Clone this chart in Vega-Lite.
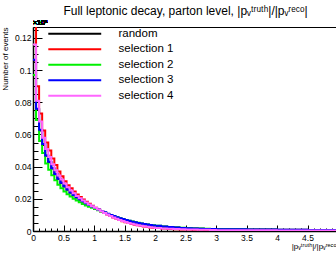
{
  "$schema": "https://vega.github.io/schema/vega-lite/v6.json",
  "width": 305,
  "height": 204,
  "autosize": {"type": "none"},
  "padding": {"left": 33, "top": 27, "right": 0, "bottom": 24},
  "background": "white",
  "config": {
    "view": {"stroke": "black", "strokeWidth": 1},
    "font": "Liberation Sans"
  },
  "title": {
    "text": "Full leptonic decay, parton level, |pᵥᵗʳᵘᵗʰ|/|pᵥʳᵉᶜᵒ|",
    "fontSize": 12,
    "fontWeight": "normal",
    "font": "Liberation Sans",
    "color": "black",
    "anchor": "middle",
    "frame": "group",
    "offset": 1
  },
  "data": {
    "values": [
      {"x": 0.00, "random": 0.1060, "selection 1": 0.140, "selection 2": 0.097, "selection 3": 0.1065, "selection 4": 0.116},
      {"x": 0.05, "random": 0.0755, "selection 1": 0.090, "selection 2": 0.069, "selection 3": 0.076, "selection 4": 0.081},
      {"x": 0.10, "random": 0.0625, "selection 1": 0.073, "selection 2": 0.056, "selection 3": 0.063, "selection 4": 0.068},
      {"x": 0.15, "random": 0.0535, "selection 1": 0.0625, "selection 2": 0.0485, "selection 3": 0.054, "selection 4": 0.058},
      {"x": 0.20, "random": 0.0468, "selection 1": 0.055, "selection 2": 0.042, "selection 3": 0.047, "selection 4": 0.051},
      {"x": 0.25, "random": 0.0428, "selection 1": 0.050, "selection 2": 0.038, "selection 3": 0.043, "selection 4": 0.046},
      {"x": 0.30, "random": 0.0388, "selection 1": 0.045, "selection 2": 0.0347, "selection 3": 0.039, "selection 4": 0.0415},
      {"x": 0.35, "random": 0.0353, "selection 1": 0.041, "selection 2": 0.0316, "selection 3": 0.0355, "selection 4": 0.0378},
      {"x": 0.40, "random": 0.0323, "selection 1": 0.037, "selection 2": 0.0288, "selection 3": 0.0325, "selection 4": 0.0345},
      {"x": 0.45, "random": 0.0298, "selection 1": 0.034, "selection 2": 0.0266, "selection 3": 0.030, "selection 4": 0.032},
      {"x": 0.50, "random": 0.0276, "selection 1": 0.031, "selection 2": 0.0246, "selection 3": 0.0278, "selection 4": 0.0295},
      {"x": 0.55, "random": 0.0256, "selection 1": 0.0285, "selection 2": 0.0229, "selection 3": 0.0258, "selection 4": 0.0272},
      {"x": 0.60, "random": 0.0238, "selection 1": 0.0265, "selection 2": 0.0214, "selection 3": 0.024, "selection 4": 0.0252},
      {"x": 0.65, "random": 0.0222, "selection 1": 0.0245, "selection 2": 0.0201, "selection 3": 0.0224, "selection 4": 0.0234},
      {"x": 0.70, "random": 0.0208, "selection 1": 0.0227, "selection 2": 0.0189, "selection 3": 0.021, "selection 4": 0.0218},
      {"x": 0.75, "random": 0.0195, "selection 1": 0.0211, "selection 2": 0.0178, "selection 3": 0.0197, "selection 4": 0.0203},
      {"x": 0.80, "random": 0.0183, "selection 1": 0.0196, "selection 2": 0.0168, "selection 3": 0.0185, "selection 4": 0.019},
      {"x": 0.85, "random": 0.0171, "selection 1": 0.0182, "selection 2": 0.0159, "selection 3": 0.0173, "selection 4": 0.0177},
      {"x": 0.90, "random": 0.0160, "selection 1": 0.0169, "selection 2": 0.0151, "selection 3": 0.0162, "selection 4": 0.0165},
      {"x": 0.95, "random": 0.0150, "selection 1": 0.0157, "selection 2": 0.0144, "selection 3": 0.0152, "selection 4": 0.0154},
      {"x": 1.00, "random": 0.0141, "selection 1": 0.0145, "selection 2": 0.0137, "selection 3": 0.0143, "selection 4": 0.0144},
      {"x": 1.05, "random": 0.0132, "selection 1": 0.0134, "selection 2": 0.0129, "selection 3": 0.0134, "selection 4": 0.0133},
      {"x": 1.10, "random": 0.0123, "selection 1": 0.0123, "selection 2": 0.0121, "selection 3": 0.0125, "selection 4": 0.0122},
      {"x": 1.15, "random": 0.0114, "selection 1": 0.0112, "selection 2": 0.0113, "selection 3": 0.0116, "selection 4": 0.0112},
      {"x": 1.20, "random": 0.0106, "selection 1": 0.0102, "selection 2": 0.0106, "selection 3": 0.0108, "selection 4": 0.0102},
      {"x": 1.25, "random": 0.0098, "selection 1": 0.0093, "selection 2": 0.0099, "selection 3": 0.0100, "selection 4": 0.0093},
      {"x": 1.30, "random": 0.0091, "selection 1": 0.0084, "selection 2": 0.0092, "selection 3": 0.0093, "selection 4": 0.0084},
      {"x": 1.35, "random": 0.0084, "selection 1": 0.0076, "selection 2": 0.0086, "selection 3": 0.0086, "selection 4": 0.0076},
      {"x": 1.40, "random": 0.0078, "selection 1": 0.0068, "selection 2": 0.0080, "selection 3": 0.0080, "selection 4": 0.0069},
      {"x": 1.45, "random": 0.0072, "selection 1": 0.0061, "selection 2": 0.0074, "selection 3": 0.0074, "selection 4": 0.0062},
      {"x": 1.50, "random": 0.0067, "selection 1": 0.0055, "selection 2": 0.0069, "selection 3": 0.0068, "selection 4": 0.0056},
      {"x": 1.55, "random": 0.0062, "selection 1": 0.0049, "selection 2": 0.0064, "selection 3": 0.0063, "selection 4": 0.0050},
      {"x": 1.60, "random": 0.0057, "selection 1": 0.0044, "selection 2": 0.0059, "selection 3": 0.0058, "selection 4": 0.0045},
      {"x": 1.65, "random": 0.0053, "selection 1": 0.0039, "selection 2": 0.0055, "selection 3": 0.0054, "selection 4": 0.0040},
      {"x": 1.70, "random": 0.0049, "selection 1": 0.0035, "selection 2": 0.0051, "selection 3": 0.0050, "selection 4": 0.0036},
      {"x": 1.75, "random": 0.0045, "selection 1": 0.0031, "selection 2": 0.0047, "selection 3": 0.0046, "selection 4": 0.0032},
      {"x": 1.80, "random": 0.0042, "selection 1": 0.0028, "selection 2": 0.0044, "selection 3": 0.0043, "selection 4": 0.0029},
      {"x": 1.85, "random": 0.0039, "selection 1": 0.0025, "selection 2": 0.0041, "selection 3": 0.0040, "selection 4": 0.0026},
      {"x": 1.90, "random": 0.0036, "selection 1": 0.0022, "selection 2": 0.0038, "selection 3": 0.0037, "selection 4": 0.0023},
      {"x": 1.95, "random": 0.0033, "selection 1": 0.0020, "selection 2": 0.0035, "selection 3": 0.0034, "selection 4": 0.0021},
      {"x": 2.0, "random": 0.0031, "selection 1": 0.0018, "selection 2": 0.0032, "selection 3": 0.0032, "selection 4": 0.0019},
      {"x": 2.1, "random": 0.0027, "selection 1": 0.0015, "selection 2": 0.0028, "selection 3": 0.0028, "selection 4": 0.0016},
      {"x": 2.2, "random": 0.0024, "selection 1": 0.0013, "selection 2": 0.0025, "selection 3": 0.0025, "selection 4": 0.0014},
      {"x": 2.3, "random": 0.0021, "selection 1": 0.0011, "selection 2": 0.0022, "selection 3": 0.0022, "selection 4": 0.0012},
      {"x": 2.4, "random": 0.0019, "selection 1": 0.0010, "selection 2": 0.0020, "selection 3": 0.0019, "selection 4": 0.0011},
      {"x": 2.5, "random": 0.0017, "selection 1": 0.0009, "selection 2": 0.0018, "selection 3": 0.0017, "selection 4": 0.0010},
      {"x": 2.6, "random": 0.0015, "selection 1": 0.0008, "selection 2": 0.0016, "selection 3": 0.0015, "selection 4": 0.0009},
      {"x": 2.7, "random": 0.0014, "selection 1": 0.0007, "selection 2": 0.0015, "selection 3": 0.0014, "selection 4": 0.0008},
      {"x": 2.8, "random": 0.0013, "selection 1": 0.0006, "selection 2": 0.0014, "selection 3": 0.0013, "selection 4": 0.0007},
      {"x": 2.9, "random": 0.0012, "selection 1": 0.0006, "selection 2": 0.0013, "selection 3": 0.0012, "selection 4": 0.0006},
      {"x": 3.0, "random": 0.0011, "selection 1": 0.0005, "selection 2": 0.0011, "selection 3": 0.0011, "selection 4": 0.0005},
      {"x": 3.5, "random": 0.0009, "selection 1": 0.0004, "selection 2": 0.0008, "selection 3": 0.0009, "selection 4": 0.0004},
      {"x": 4.0, "random": 0.0007, "selection 1": 0.0003, "selection 2": 0.0006, "selection 3": 0.0007, "selection 4": 0.0003},
      {"x": 4.5, "random": 0.0006, "selection 1": 0.0003, "selection 2": 0.0005, "selection 3": 0.0006, "selection 4": 0.0003},
      {"x": 5.0, "random": 0.0006, "selection 1": 0.0003, "selection 2": 0.0005, "selection 3": 0.0006, "selection 4": 0.0003}
    ]
  },
  "resolve": {"axis": {"x": "independent", "y": "independent"}},
  "layer": [
    {
      "transform": [
        {"fold": ["random", "selection 1", "selection 2", "selection 3", "selection 4"], "as": ["series", "value"]}
      ],
      "mark": {"type": "line", "interpolate": "step-after", "strokeWidth": 2, "clip": true},
      "encoding": {
        "x": {
          "field": "x",
          "type": "quantitative",
          "scale": {"domain": [0, 5], "nice": false, "zero": false},
          "axis": {
            "orient": "bottom",
            "title": "|pᵥᵗʳᵘᵗʰ|/|pᵥʳᵉᶜᵒ|",
            "titleFontSize": 8,
            "titleFontWeight": "normal",
            "titleColor": "black",
            "titleAnchor": "end",
            "titlePadding": 1,
            "values": [0,0.5,1,1.5,2,2.5,3,3.5,4,4.5,5],
            "format": "~g",
            "labelFontSize": 8.5,
            "labelColor": "black",
            "labelPadding": 8,
            "labelFlush": false,
            "labelOverlap": false,
            "labelBound": false,
            "grid": false,
            "domainColor": "black",
            "domainWidth": 1.5,
            "tickColor": "black",
            "tickWidth": 1,
            "tickSize": -6
          }
        },
        "y": {
          "field": "value",
          "type": "quantitative",
          "scale": {"domain": [0, 0.1268], "nice": false, "zero": true},
          "axis": {
            "orient": "left",
            "title": "Number of events",
            "titleFontSize": 8,
            "titleFontWeight": "normal",
            "titleColor": "black",
            "titleAnchor": "end",
            "titlePadding": 5,
            "values": [0,0.02,0.04,0.06,0.08,0.1,0.12],
            "format": "~g",
            "labelFontSize": 8.5,
            "labelColor": "black",
            "labelPadding": 11,
            "labelFlush": false,
            "labelOverlap": false,
            "labelBound": false,
            "grid": false,
            "domainColor": "black",
            "domainWidth": 1.5,
            "tickColor": "black",
            "tickWidth": 1,
            "tickSize": -9
          }
        },
        "color": {
          "field": "series",
          "type": "nominal",
          "scale": {
            "domain": ["random", "selection 1", "selection 2", "selection 3", "selection 4"],
            "range": ["#000000", "#ff0000", "#00f000", "#0000ff", "#ff66ff"]
          },
          "legend": {
            "title": null,
            "orient": "none",
            "legendX": 36,
            "legendY": 1,
            "padding": 0,
            "symbolType": "M-10,0H10",
            "symbolSize": 28,
            "symbolStrokeWidth": 2,
            "labelFontSize": 11.5,
            "labelColor": "black",
            "labelOffset": 38,
            "rowPadding": 2.5
          }
        }
      }
    },
    {
      "mark": {"type": "text", "align": "left", "baseline": "bottom", "fontSize": 7, "dy": -1, "color": "black"},
      "encoding": {
        "x": {
          "datum": 0,
          "type": "quantitative",
          "axis": {
            "orient": "bottom",
            "title": null,
            "labels": false,
            "domain": false,
            "grid": false,
            "values": [0.1,0.2,0.3,0.4,0.6,0.7,0.8,0.9,1.1,1.2,1.3,1.4,1.6,1.7,1.8,1.9,2.1,2.2,2.3,2.4,2.6,2.7,2.8,2.9,3.1,3.2,3.3,3.4,3.6,3.7,3.8,3.9,4.1,4.2,4.3,4.4,4.6,4.7,4.8,4.9],
            "tickColor": "black",
            "tickWidth": 1,
            "tickSize": -3
          }
        },
        "y": {
          "datum": 0.1268,
          "type": "quantitative",
          "axis": {
            "orient": "left",
            "title": null,
            "labels": false,
            "domain": false,
            "grid": false,
            "values": [0.005,0.01,0.015,0.025,0.03,0.035,0.045,0.05,0.055,0.065,0.07,0.075,0.085,0.09,0.095,0.105,0.11,0.115,0.125],
            "tickColor": "black",
            "tickWidth": 1,
            "tickSize": -5
          }
        },
        "text": {"value": "×10⁶"}
      }
    }
  ]
}
